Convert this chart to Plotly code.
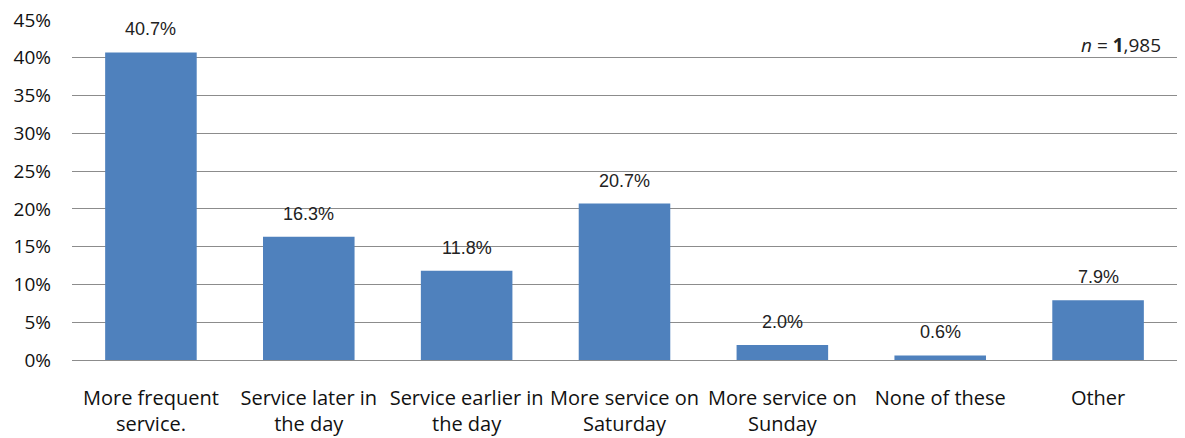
import plotly.graph_objects as go

categories = [
    "More frequent<br>service.",
    "Service later in<br>the day",
    "Service earlier in<br>the day",
    "More service on<br>Saturday",
    "More service on<br>Sunday",
    "None of these",
    "Other",
]
values = [40.7, 16.3, 11.8, 20.7, 2.0, 0.6, 7.9]
value_labels = [f"{v:.1f}%" for v in values]
y_ticks = [0, 5, 10, 15, 20, 25, 30, 35, 40, 45]
y_tick_labels = [f"{t}%" for t in y_ticks]

BAR_COLOR = "#4F81BD"
FONT = "'Open Sans', 'Noto Sans', sans-serif"
LABEL_FONT = "'Liberation Sans', Arial, sans-serif"

fig = go.Figure(
    go.Bar(
        x=categories,
        y=values,
        marker=dict(color=BAR_COLOR, line=dict(width=0)),
        cliponaxis=False,
    )
)

# value labels floating above each bar
annotations = [
    dict(
        x=c, y=v, xref="x", yref="y",
        text=t, showarrow=False,
        yanchor="bottom", yshift=11,
        font=dict(family=LABEL_FONT, size=18, color="#222"),
    )
    for c, v, t in zip(categories, values, value_labels)
]
annotations.append(
    dict(
        text="<i>n</i> = <b>1</b>,985",
        x=1, xref="paper", xanchor="right", xshift=-14,
        y=45, yref="y", yanchor="middle", yshift=-25,
        showarrow=False,
        font=dict(family=FONT, size=19, color="#222"),
    )
)

fig.update_layout(
    width=1185,
    height=438,
    margin=dict(l=72, r=8, t=20, b=78),
    paper_bgcolor="white",
    plot_bgcolor="white",
    bargap=0.42,
    showlegend=False,
    font=dict(family=FONT, size=18, color="#111"),
    annotations=annotations,
    xaxis=dict(
        automargin=False,
        showgrid=False,
        showline=True,
        linecolor="#8c8c8c",
        linewidth=1,
        ticks="",
        ticklabelstandoff=20,
        tickfont=dict(family=FONT, size=20, color="#111"),
    ),
    yaxis=dict(
        automargin=False,
        range=[0, 45],
        tickvals=y_ticks,
        ticktext=y_tick_labels,
        showgrid=True,
        gridcolor="#8c8c8c",
        gridwidth=1,
        zeroline=False,
        showline=False,
        ticks="",
        ticklabelstandoff=20,
        tickfont=dict(family=FONT, size=19, color="#111"),
    ),
)

fig.write_html("out.html")
